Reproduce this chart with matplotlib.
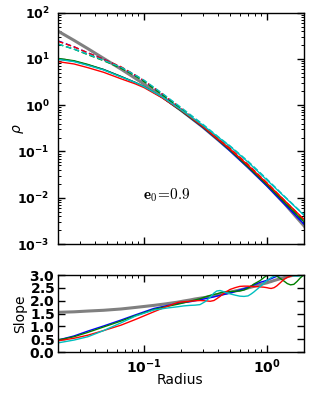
import numpy as np
import matplotlib
matplotlib.use('Agg')
import matplotlib.pyplot as plt
from matplotlib.ticker import LogLocator, NullFormatter, MultipleLocator, FuncFormatter

# radii for density panel
r_top = [0.02, 0.027, 0.035, 0.047, 0.065, 0.085, 0.1, 0.14, 0.2, 0.3, 0.4, 0.5, 0.7, 1.0, 1.4, 2.0]
# log10(rho)
gray_top = [1.60, 1.40, 1.22, 1.01, 0.78, 0.58, 0.455, 0.19, -0.11, -0.47, -0.75, -0.97, -1.33, -1.73, -2.14, -2.61]
blue_solid = [1.00, 0.95, 0.87, 0.77, 0.62, 0.49, 0.40, 0.17, -0.12, -0.48, -0.76, -0.99, -1.35, -1.75, -2.15, -2.57]
green_solid = [1.01, 0.96, 0.88, 0.77, 0.62, 0.49, 0.40, 0.17, -0.12, -0.47, -0.75, -0.97, -1.33, -1.72, -2.11, -2.52]
red_solid = [0.94, 0.89, 0.81, 0.71, 0.57, 0.46, 0.38, 0.16, -0.11, -0.46, -0.74, -0.95, -1.30, -1.69, -2.07, -2.47]
cyan_solid = [0.99, 0.94, 0.86, 0.76, 0.61, 0.49, 0.40, 0.18, -0.10, -0.43, -0.69, -0.89, -1.23, -1.62, -1.99, -2.38]
blue_dash = [1.39, 1.26, 1.13, 0.99, 0.82, 0.64, 0.52, 0.24, -0.08, -0.46, -0.74, -0.96, -1.32, -1.73, -2.13, -2.57]
red_dash = [1.38, 1.26, 1.13, 0.99, 0.83, 0.65, 0.53, 0.25, -0.07, -0.44, -0.72, -0.93, -1.28, -1.68, -2.07, -2.48]
green_dash = [1.32, 1.21, 1.09, 0.96, 0.80, 0.63, 0.51, 0.23, -0.08, -0.46, -0.74, -0.96, -1.31, -1.71, -2.11, -2.52]
cyan_dash = [1.32, 1.21, 1.10, 0.97, 0.82, 0.65, 0.54, 0.26, -0.05, -0.41, -0.68, -0.88, -1.21, -1.60, -1.98, -2.37]

# radii for slope panel
r_bot = [0.02, 0.027, 0.035, 0.047, 0.065, 0.085, 0.12, 0.15, 0.19, 0.21, 0.236, 0.26,
         0.285, 0.315, 0.345, 0.37, 0.39, 0.415, 0.44, 0.47, 0.5, 0.55, 0.6, 0.65,
         0.7, 0.74, 0.78, 0.83, 0.88, 0.94, 1.0, 1.04, 1.08, 1.14, 1.2, 1.28, 1.37,
         1.46, 1.55, 1.65, 1.75, 1.87, 2.0]
gray_slope = [1.55, 1.57, 1.60, 1.63, 1.68, 1.74, 1.82, 1.88, 1.95, 1.99, 2.03, 2.07,
              2.10, 2.13, 2.17, 2.20, 2.22, 2.24, 2.27, 2.30, 2.33, 2.38, 2.42, 2.46,
              2.50, 2.53, 2.56, 2.60, 2.63, 2.67, 2.70, 2.73, 2.75, 2.79, 2.82, 2.86, 2.90,
              2.94, 2.97, 3.00, 3.03, 3.06, 3.10]
blue_slope = [0.47, 0.63, 0.82, 1.02, 1.25, 1.45, 1.70, 1.80, 1.90, 1.93, 1.96, 2.00,
              2.04, 2.08, 2.12, 2.15, 2.18, 2.21, 2.24, 2.27, 2.30, 2.36, 2.42, 2.47,
              2.52, 2.57, 2.62, 2.67, 2.72, 2.76, 2.80, 2.83, 2.86, 2.91, 2.95, 2.98, 3.00,
              3.02, 3.03, 3.04, 3.05, 3.05, 3.05]
green_slope = [0.47, 0.60, 0.77, 0.98, 1.21, 1.42, 1.66, 1.77, 1.87, 1.92, 1.98, 2.03,
               2.08, 2.15, 2.21, 2.25, 2.27, 2.31, 2.34, 2.36, 2.36, 2.37, 2.38, 2.42,
               2.49, 2.57, 2.65, 2.72, 2.79, 2.90, 2.99, 3.02, 3.02, 3.00, 2.96, 2.87, 2.77,
               2.67, 2.62, 2.64, 2.75, 2.90, 3.02]
red_slope = [0.44, 0.54, 0.66, 0.84, 1.05, 1.27, 1.57, 1.76, 1.94, 1.96, 1.98, 2.00,
             2.01, 2.00, 1.98, 2.01, 2.08, 2.17, 2.27, 2.36, 2.44, 2.51, 2.56, 2.57,
             2.57, 2.56, 2.55, 2.55, 2.54, 2.53, 2.51, 2.49, 2.48, 2.51, 2.58, 2.70, 2.83,
             2.91, 2.96, 3.01, 3.05, 3.08, 3.10]
cyan_slope = [0.36, 0.47, 0.60, 0.84, 1.14, 1.40, 1.64, 1.71, 1.77, 1.80, 1.82, 1.83,
              1.85, 1.97, 2.14, 2.30, 2.38, 2.40, 2.36, 2.31, 2.27, 2.22, 2.18, 2.17,
              2.19, 2.26, 2.34, 2.45, 2.55, 2.68, 2.79, 2.85, 2.90, 2.96, 3.00, 3.04, 3.05,
              3.03, 3.01, 2.97, 2.96, 2.98, 3.02]

fig = plt.figure(figsize=(3.1, 3.93), dpi=100)
ax1 = fig.add_axes([0.187, 0.379, 0.794, 0.589])
ax2 = fig.add_axes([0.187, 0.104, 0.794, 0.196])

ax1.plot(r_top, 10**np.array(gray_top), color='0.5', lw=2.2)
for vals, c in [(blue_dash, 'b'), (red_dash, 'r'), (green_dash, 'g'), (cyan_dash, 'c')]:
    ax1.plot(r_top, 10**np.array(vals), color=c, lw=1, dashes=(4, 2))
for vals, c in [(blue_solid, 'b'), (green_solid, 'g'), (red_solid, 'r'), (cyan_solid, 'c')]:
    ax1.plot(r_top, 10**np.array(vals), color=c, lw=1)

ax2.plot(r_bot, gray_slope, color='0.5', lw=2.2)
for vals, c in [(blue_slope, 'b'), (green_slope, 'g'), (red_slope, 'r'), (cyan_slope, 'c')]:
    ax2.plot(r_bot, vals, color=c, lw=1)

logfmt = FuncFormatter(lambda v, p: r'$\mathbf{10^{%d}}$' % int(round(np.log10(v))))
slopefmt = FuncFormatter(lambda v, p: r'$\mathbf{%.1f}$' % v)

for ax in (ax1, ax2):
    ax.set_xscale('log')
    ax.set_xlim(0.02, 2.0)
    ax.tick_params(which='both', direction='in', top=True, right=True)
    ax.tick_params(which='major', length=5, width=1, labelsize=9)
    ax.tick_params(which='minor', length=2.5, width=0.7)
    ax.xaxis.set_major_locator(LogLocator(base=10))
    ax.xaxis.set_minor_locator(LogLocator(base=10, subs=np.arange(2, 10)))
    ax.xaxis.set_minor_formatter(NullFormatter())
    for s in ax.spines.values():
        s.set_linewidth(1)

ax1.set_yscale('log')
ax1.set_ylim(1e-3, 1e2)
ax1.yaxis.set_major_locator(LogLocator(base=10))
ax1.yaxis.set_minor_locator(LogLocator(base=10, subs=np.arange(2, 10)))
ax1.yaxis.set_minor_formatter(NullFormatter())
ax1.yaxis.set_major_formatter(logfmt)
ax1.xaxis.set_major_formatter(NullFormatter())
ax1.tick_params(axis='y', pad=6)
ax1.set_ylabel(r'$\rho$', fontsize=10)
ax1.yaxis.set_label_coords(-0.13, 0.5)
ax1.text(0.443, 0.212, r'$\mathbf{e}_0\!=\!0.9$', transform=ax1.transAxes,
         ha='center', va='center', fontsize=11, math_fontfamily='cm')

ax2.set_ylim(0, 3.0)
ax2.yaxis.set_major_locator(MultipleLocator(0.5))
ax2.yaxis.set_major_formatter(slopefmt)
ax2.xaxis.set_major_formatter(logfmt)
ax2.tick_params(axis='y', labelsize=10, pad=2)
ax2.tick_params(axis='x', labelsize=10, pad=4)
ax2.set_ylabel('Slope', fontsize=10)
ax2.yaxis.set_label_coords(-0.125, 0.5)
ax2.set_xlabel('Radius', fontsize=10)
ax2.xaxis.set_label_coords(0.496, -0.275)

fig.savefig('out.png', dpi=100)
